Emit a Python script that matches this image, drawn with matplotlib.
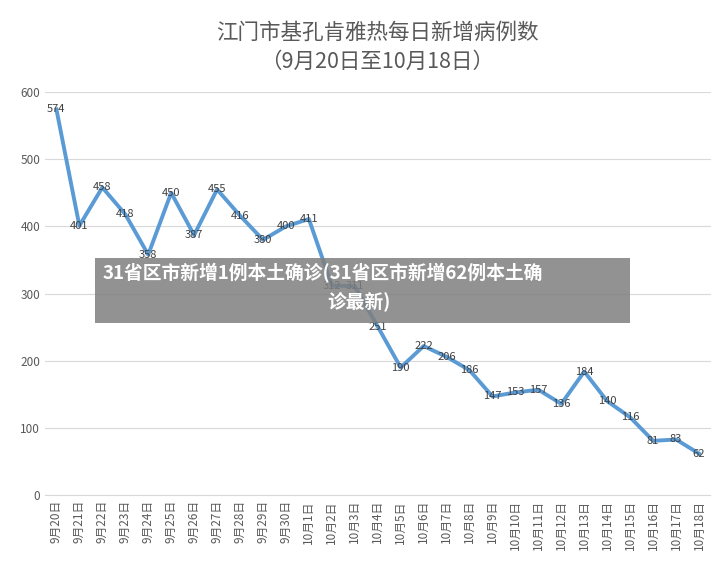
import matplotlib
matplotlib.use('Agg')
import matplotlib.pyplot as plt
from matplotlib.patches import Rectangle

plt.rcParams['font.family'] = ['Noto Sans CJK SC', 'DejaVu Sans']

dates = ['9月20日','9月21日','9月22日','9月23日','9月24日','9月25日','9月26日','9月27日','9月28日','9月29日','9月30日',
         '10月1日','10月2日','10月3日','10月4日','10月5日','10月6日','10月7日','10月8日','10月9日','10月10日',
         '10月11日','10月12日','10月13日','10月14日','10月15日','10月16日','10月17日','10月18日']
values = [574,401,458,418,358,450,387,455,416,380,400,411,312,311,251,190,222,206,186,147,153,157,136,184,140,116,81,83,62]

fig = plt.figure(figsize=(7.25,5.82), dpi=100)
ax = fig.add_axes([0.062,0.149,0.918,0.693])
x = list(range(len(values)))
ax.plot(x, values, color='#5B9BD5', lw=2.8, zorder=3)
for xi, v in zip(x, values):
    ax.text(xi, v, str(v), ha='center', va='center', fontsize=8, color='#404040', zorder=4)
ax.set_ylim(0,600)
ax.set_yticks(range(0,601,100))
ax.set_xlim(-0.5, len(values)-0.5)
ax.set_xticks(x)
ax.set_xticklabels(dates, rotation=90, fontsize=8.5, color='#595959')
ax.tick_params(axis='y', labelsize=8.5, labelcolor='#595959', length=0)
ax.tick_params(axis='x', length=0)
ax.grid(axis='y', color='#D9D9D9', lw=0.8)
ax.set_axisbelow(True)
for s in ['top','right','left']:
    ax.spines[s].set_visible(False)
ax.spines['bottom'].set_color('#D9D9D9')
fig.text(0.52, 1-33/582, '江门市基孔肯雅热每日新增病例数', ha='center', va='center', fontsize=15.5, color='#595959')
fig.text(0.52, 1-62/582, '（9月20日至10月18日）', ha='center', va='center', fontsize=15.5, color='#595959')
fig.patches.append(Rectangle((95/725, 1-323/582), 535/725, 65/582, transform=fig.transFigure,
                             facecolor='#7f7f7f', alpha=0.85, zorder=5))
fig.text(103/725, 1-273/582, '31省区市新增1例本土确诊(31省区市新增62例本土确', ha='left', va='center',
         fontsize=13.5, color='white', fontweight='bold', zorder=6)
fig.text(0.495, 1-301/582, '诊最新)', ha='center', va='center', fontsize=13.5, color='white', fontweight='bold', zorder=6)
fig.savefig('out.png', dpi=100)
